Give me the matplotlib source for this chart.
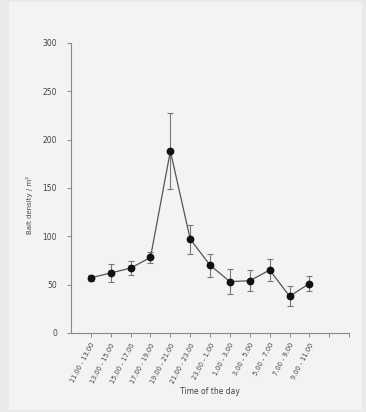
import matplotlib
matplotlib.use("Agg")
import matplotlib.pyplot as plt
import matplotlib.patches as mpatches

# Sampling intervals through the day
intervals = [
    "11.00 - 13.00", "13.00 - 15.00", "15.00 - 17.00", "17.00 - 19.00",
    "19.00 - 21.00", "21.00 - 23.00", "23.00 - 1.00", "1.00 - 3.00",
    "3.00 - 5.00", "5.00 - 7.00", "7.00 - 9.00", "9.00 - 11.00",
]
density = [57, 62, 67, 78, 188, 97, 70, 53, 54, 65, 38, 51]
density_err = [3, 9, 7, 6, 39, 15, 12, 13, 11, 11, 10, 8]

positions = list(range(1, len(intervals) + 1))

fig = plt.figure(figsize=(3.66, 4.12), dpi=100, facecolor="#e9e9e9")
fig.patches.append(mpatches.Rectangle((0.025, 0.005), 0.964, 0.99,
                                      transform=fig.transFigure,
                                      facecolor="#f3f3f3", edgecolor="none",
                                      zorder=-1))
ax = fig.add_axes([0.194, 0.192, 0.760, 0.704])
ax.set_facecolor("none")

ax.errorbar(positions, density, yerr=density_err, color="#555555", lw=0.9,
            ecolor="#777777", elinewidth=0.8, capsize=2.2, capthick=0.8,
            marker="o", markersize=4.6, markerfacecolor="#111111",
            markeredgecolor="#111111", zorder=3)

ax.set_xlim(0, 14)
ax.set_ylim(0, 300)
ax.set_yticks(range(0, 301, 50))
ax.set_xticks(range(1, 15))
ax.tick_params(colors="#888888", length=3, width=0.7, direction="out")
ax.set_xticklabels(intervals + ["", ""], rotation=62, ha="right",
                   rotation_mode="anchor", fontsize=4.8, color="#444444")
ax.tick_params(axis="y", labelsize=5.5, labelcolor="#444444", pad=7)

for side in ("top", "right"):
    ax.spines[side].set_visible(False)
for side in ("left", "bottom"):
    ax.spines[side].set_color("#888888")
    ax.spines[side].set_linewidth(0.8)

ax.set_ylabel("Bait density / m²", fontsize=5, color="#444444")
ax.yaxis.set_label_coords(-0.135, 0.44)
ax.set_xlabel("Time of the day", fontsize=5.5, color="#444444", labelpad=2)

fig.savefig("out.png", dpi=100, facecolor=fig.get_facecolor())
